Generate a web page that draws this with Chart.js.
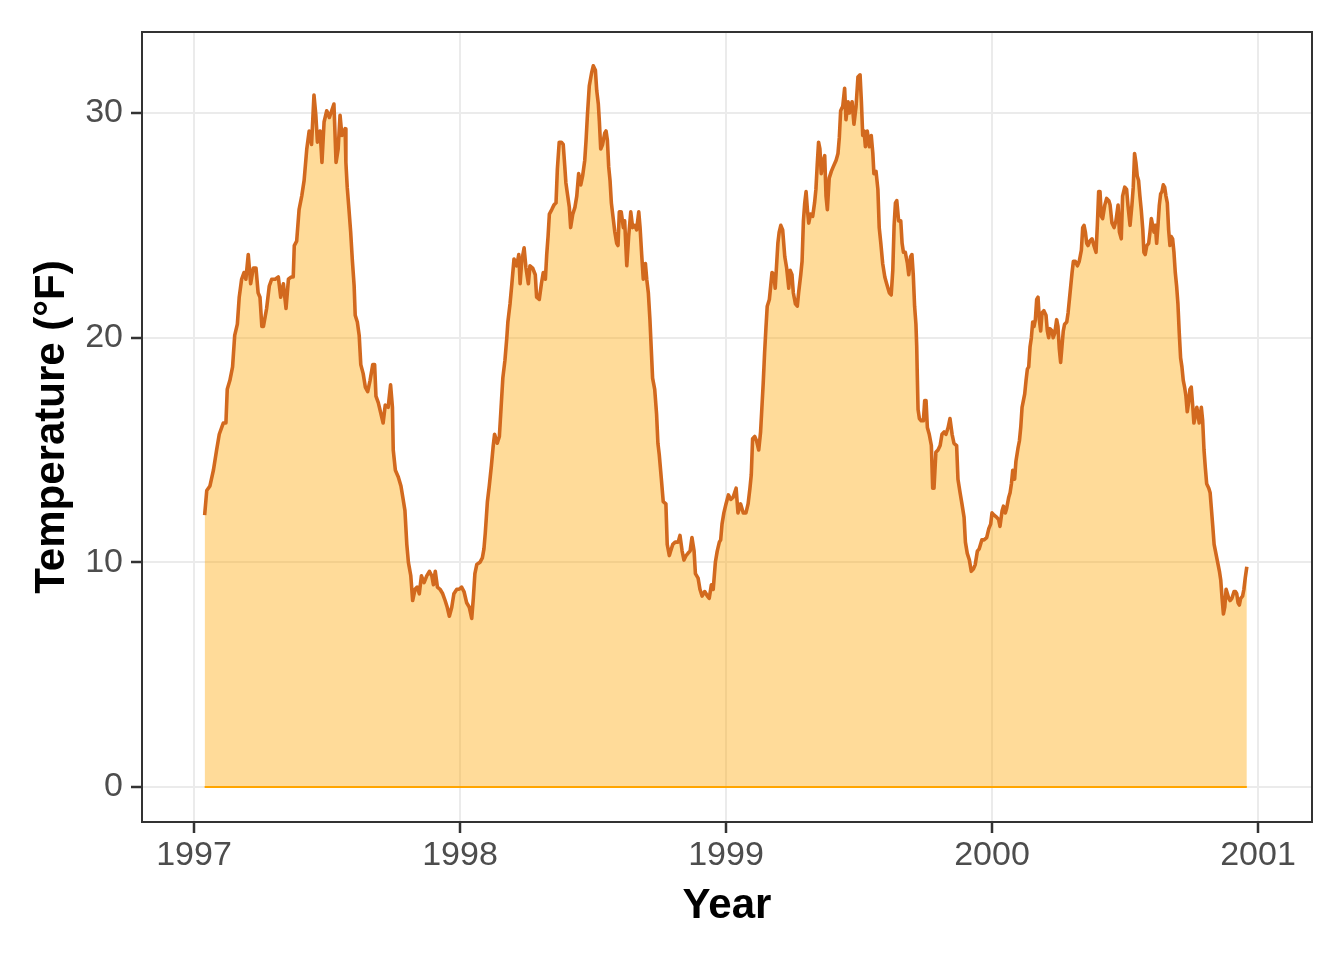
<!DOCTYPE html>
<html>
<head>
<meta charset="utf-8">
<script src="https://cdn.jsdelivr.net/npm/chart.js@4.4.1/dist/chart.umd.min.js"></script>
<style>
  html, body { margin: 0; padding: 0; background: #fff; }
  #wrap { width: 1344px; height: 960px; }
</style>
</head>
<body>
<div id="wrap"><canvas id="tempChart" width="1344" height="960"></canvas></div>
<script>
// readings, decimal year + temperature
const years = [
  1997.040, 1997.048, 1997.060, 1997.073, 1997.085, 1997.095, 1997.110, 1997.120, 1997.125, 1997.135,
  1997.145, 1997.153, 1997.163, 1997.170, 1997.179, 1997.188, 1997.195, 1997.204, 1997.213, 1997.223,
  1997.233, 1997.241, 1997.248, 1997.255, 1997.261, 1997.273, 1997.283, 1997.292, 1997.305, 1997.317,
  1997.326, 1997.336, 1997.346, 1997.355, 1997.365, 1997.373, 1997.377, 1997.386, 1997.395, 1997.405,
  1997.414, 1997.424, 1997.433, 1997.442, 1997.451, 1997.458, 1997.464, 1997.474, 1997.481, 1997.489,
  1997.499, 1997.509,
  1997.526, 1997.534, 1997.542, 1997.549, 1997.556, 1997.568, 1997.571, 1997.576, 1997.582, 1997.589,
  1997.595, 1997.602, 1997.606, 1997.614, 1997.621, 1997.627, 1997.636, 1997.644, 1997.653, 1997.662,
  1997.672, 1997.679, 1997.684, 1997.693, 1997.703, 1997.711, 1997.719, 1997.730, 1997.739, 1997.746,
  1997.749, 1997.757, 1997.768, 1997.778, 1997.785, 1997.793, 1997.800, 1997.806, 1997.815, 1997.822,
  1997.831, 1997.839, 1997.847, 1997.855, 1997.865, 1997.875, 1997.885, 1997.894, 1997.900, 1997.907,
  1997.915, 1997.925, 1997.935, 1997.944, 1997.952, 1997.960, 1997.969, 1997.977, 1997.988, 1997.997,
  1998.006, 1998.015, 1998.025, 1998.035, 1998.044, 1998.050, 1998.056, 1998.063, 1998.075, 1998.084,
  1998.090, 1998.095, 1998.103, 1998.110, 1998.118, 1998.125, 1998.130, 1998.140, 1998.148, 1998.154,
  1998.161, 1998.169, 1998.176, 1998.180, 1998.188, 1998.195, 1998.203, 1998.213, 1998.221, 1998.226,
  1998.232, 1998.241, 1998.248, 1998.257, 1998.263, 1998.273, 1998.283, 1998.288, 1998.298, 1998.306,
  1998.313, 1998.321, 1998.326, 1998.331, 1998.336, 1998.345, 1998.353, 1998.361, 1998.366, 1998.373,
  1998.381, 1998.388, 1998.394, 1998.398, 1998.405, 1998.411, 1998.416, 1998.424, 1998.432, 1998.439,
  1998.446, 1998.454, 1998.461, 1998.469, 1998.474, 1998.479, 1998.486,
  1998.495, 1998.501, 1998.509, 1998.514, 1998.520, 1998.524, 1998.529, 1998.536, 1998.544, 1998.549,
  1998.554, 1998.559, 1998.564, 1998.569, 1998.574, 1998.582, 1998.589, 1998.594, 1998.599, 1998.606,
  1998.614, 1998.619, 1998.627, 1998.634, 1998.642, 1998.649, 1998.657, 1998.664, 1998.672, 1998.677,
  1998.683, 1998.689, 1998.697, 1998.702, 1998.708, 1998.714, 1998.719, 1998.724, 1998.732, 1998.739,
  1998.744, 1998.749, 1998.757, 1998.764, 1998.774, 1998.779, 1998.787, 1998.792, 1998.800, 1998.809,
  1998.820, 1998.827, 1998.835, 1998.842, 1998.850, 1998.857, 1998.865, 1998.872, 1998.880, 1998.885,
  1998.895, 1998.902, 1998.910, 1998.920, 1998.930, 1998.937, 1998.945, 1998.952, 1998.960, 1998.967,
  1998.975,
  1998.980, 1998.985, 1998.992, 1999.000, 1999.009, 1999.018, 1999.027, 1999.038, 1999.045, 1999.055,
  1999.065, 1999.075, 1999.083, 1999.090, 1999.095, 1999.100, 1999.108, 1999.115, 1999.123, 1999.130,
  1999.135, 1999.140, 1999.145, 1999.150, 1999.155, 1999.163, 1999.168, 1999.173, 1999.180, 1999.185,
  1999.191, 1999.195, 1999.200, 1999.206, 1999.213, 1999.221, 1999.228, 1999.236, 1999.241, 1999.248,
  1999.253, 1999.261, 1999.268, 1999.273, 1999.281, 1999.286, 1999.291, 1999.296, 1999.301, 1999.306,
  1999.311, 1999.318, 1999.326, 1999.333, 1999.338, 1999.343, 1999.348, 1999.353, 1999.358, 1999.366,
  1999.371, 1999.376, 1999.381, 1999.388, 1999.396, 1999.403, 1999.414, 1999.421, 1999.426, 1999.431,
  1999.439, 1999.446, 1999.451, 1999.459, 1999.464,
  1999.474, 1999.481, 1999.489, 1999.496, 1999.504, 1999.509, 1999.514, 1999.519, 1999.524, 1999.531,
  1999.539, 1999.546, 1999.552, 1999.556, 1999.564, 1999.571, 1999.576, 1999.582, 1999.589, 1999.597,
  1999.604, 1999.614, 1999.621, 1999.627, 1999.632, 1999.637, 1999.642, 1999.649, 1999.657, 1999.662,
  1999.667, 1999.674, 1999.682, 1999.687, 1999.694, 1999.699, 1999.704, 1999.709, 1999.714, 1999.717,
  1999.719, 1999.722, 1999.727, 1999.734, 1999.742, 1999.747, 1999.752, 1999.757, 1999.764, 1999.772,
  1999.777, 1999.782, 1999.789, 1999.797, 1999.805, 1999.812, 1999.820, 1999.827, 1999.835, 1999.842,
  1999.850, 1999.857, 1999.867, 1999.872, 1999.880, 1999.887, 1999.895, 1999.900, 1999.907, 1999.915,
  1999.922, 1999.930, 1999.937, 1999.945, 1999.952,
  1999.962, 1999.970, 1999.980, 1999.988, 1999.995, 2000.000, 2000.008, 2000.018, 2000.025, 2000.030,
  2000.038, 2000.043, 2000.050, 2000.055, 2000.063, 2000.068, 2000.073, 2000.078, 2000.085, 2000.090,
  2000.098, 2000.103, 2000.108, 2000.113, 2000.118, 2000.123, 2000.128, 2000.133, 2000.138, 2000.143,
  2000.148, 2000.153, 2000.158, 2000.163, 2000.168, 2000.173, 2000.178, 2000.183, 2000.188, 2000.195,
  2000.203, 2000.208, 2000.213, 2000.218, 2000.226, 2000.230, 2000.236, 2000.243, 2000.248, 2000.253,
  2000.258, 2000.263, 2000.268, 2000.273, 2000.281, 2000.286, 2000.291, 2000.296, 2000.301, 2000.306,
  2000.313, 2000.321, 2000.328, 2000.336, 2000.341, 2000.346, 2000.351, 2000.356, 2000.361, 2000.368,
  2000.376, 2000.383, 2000.391, 2000.396, 2000.401, 2000.406, 2000.411, 2000.416, 2000.424, 2000.431,
  2000.439,
  2000.444, 2000.451, 2000.459, 2000.466, 2000.474, 2000.479, 2000.486, 2000.491, 2000.499, 2000.506,
  2000.511, 2000.519, 2000.526, 2000.531, 2000.536, 2000.541, 2000.546, 2000.551, 2000.556, 2000.561,
  2000.567, 2000.571, 2000.576, 2000.582, 2000.589, 2000.594, 2000.599, 2000.604, 2000.609, 2000.614,
  2000.619, 2000.624, 2000.629, 2000.634, 2000.639, 2000.644, 2000.649, 2000.654, 2000.659, 2000.664,
  2000.669, 2000.674, 2000.679, 2000.684, 2000.689, 2000.694, 2000.699, 2000.704, 2000.709, 2000.714,
  2000.719, 2000.724, 2000.729, 2000.734, 2000.739, 2000.744, 2000.749, 2000.755, 2000.759, 2000.764,
  2000.770, 2000.774, 2000.779, 2000.787, 2000.792, 2000.797, 2000.802, 2000.807, 2000.815, 2000.820,
  2000.824, 2000.830, 2000.835, 2000.840, 2000.845, 2000.850, 2000.855, 2000.860, 2000.865, 2000.870,
  2000.875, 2000.880, 2000.885, 2000.890, 2000.895, 2000.902, 2000.910, 2000.915, 2000.920, 2000.925,
  2000.930, 2000.935, 2000.942, 2000.947, 2000.952, 2000.958
];

const temps = [
  12.1, 13.2, 13.4, 14.1, 15.0, 15.7, 16.2, 16.2, 17.7, 18.1,
  18.7, 20.1, 20.6, 21.8, 22.6, 22.9, 22.6, 23.7, 22.4, 23.1,
  23.1, 22.0, 21.8, 20.5, 20.5, 21.3, 22.3, 22.6, 22.6, 22.7,
  21.8, 22.4, 21.3, 22.6, 22.7, 22.7, 24.1, 24.3, 25.7, 26.3,
  27.0, 28.4, 29.2, 28.6, 30.8, 29.9, 28.7, 29.2, 27.8, 29.6,
  30.1, 29.8,
  30.4, 27.8, 28.4, 29.9, 29.0, 29.3, 27.8, 26.7, 25.8, 24.7,
  23.5, 22.3, 21.0, 20.7, 20.1, 18.8, 18.4, 17.8, 17.6, 18.1,
  18.8, 18.8, 17.4, 17.1, 16.6, 16.2, 17.0, 16.9, 17.9, 16.9,
  15.0, 14.1, 13.8, 13.4, 12.9, 12.3, 10.8, 10.0, 9.4, 8.3,
  8.8, 8.9, 8.6, 9.4, 9.1, 9.4, 9.6, 9.4, 9.0, 9.6,
  8.9, 8.8, 8.6, 8.3, 8.0, 7.6, 8.0, 8.6, 8.8, 8.8,
  8.9, 8.7, 8.2, 8.0, 7.5, 8.4, 9.5, 9.9, 10.0, 10.2,
  10.6, 11.3, 12.7, 13.4, 14.3, 15.2, 15.7, 15.3, 15.6, 16.8,
  18.2, 19.0, 20.0, 20.7, 21.5, 22.4, 23.5, 23.2, 23.7, 22.4,
  23.4, 24.0, 23.1, 22.4, 23.2, 23.1, 22.8, 21.8, 21.7, 22.4,
  22.9, 22.6, 23.7, 24.5, 25.5, 25.7, 25.9, 26.0, 27.5, 28.7,
  28.7, 28.6, 27.6, 26.9, 26.3, 25.8, 24.9, 25.5, 25.8, 26.3,
  27.3, 26.8, 27.2, 27.9, 28.8, 29.9, 31.2,
  31.8, 32.1, 31.9, 31.0, 30.4, 29.6, 28.4, 28.6, 29.1, 29.2,
  28.8, 27.6, 27.0, 26.0, 25.5, 24.7, 24.2, 24.1, 25.6, 25.6,
  24.9, 25.2, 23.2, 24.5, 25.6, 24.9, 25.0, 24.8, 25.6, 24.9,
  23.7, 22.6, 23.3, 22.6, 22.0, 20.8, 19.5, 18.2, 17.7, 16.6,
  15.3, 14.8, 13.7, 12.7, 12.6, 10.8, 10.3, 10.5, 10.8, 10.9,
  10.9, 11.2, 10.5, 10.1, 10.3, 10.4, 10.5, 11.1, 10.5, 9.5,
  9.3, 8.8, 8.5, 8.7, 8.5, 8.4, 9.0, 8.8, 10.0, 10.5,
  10.9,
  11.0, 11.7, 12.2, 12.6, 13.0, 12.8, 12.9, 13.3, 12.2, 12.6,
  12.2, 12.2, 12.6, 13.3, 13.9, 15.5, 15.6, 15.4, 15.0, 15.8,
  16.9, 18.0, 19.3, 20.4, 21.4, 21.7, 22.3, 22.9, 22.8, 22.2,
  23.4, 24.2, 24.7, 25.0, 24.8, 23.6, 23.1, 22.2, 23.0, 22.8,
  22.0, 21.5, 21.4, 22.0, 22.8, 23.4, 25.2, 26.0, 26.5, 25.7,
  25.1, 25.5, 25.4, 26.0, 26.6, 27.7, 28.7, 28.4, 27.3, 27.9,
  28.1, 26.3, 25.7, 27.1, 27.4, 27.6, 27.9, 28.2, 28.9, 30.1,
  30.3, 31.1, 29.7, 30.5, 30.0,
  30.5, 29.5, 30.3, 31.6, 31.7, 30.5, 29.0, 29.2, 28.5, 29.2,
  28.5, 29.0, 28.2, 27.3, 27.4, 26.6, 24.9, 24.2, 23.3, 22.7,
  22.4, 22.0, 21.9, 23.0, 25.0, 26.0, 26.1, 25.2, 25.2, 24.2,
  23.8, 23.8, 23.3, 22.8, 23.6, 23.7, 22.8, 21.4, 20.6, 19.6,
  18.4, 16.8, 16.4, 16.3, 16.3, 17.2, 17.2, 16.0, 15.7, 15.2,
  13.3, 13.3, 14.9, 15.0, 15.2, 15.7, 15.8, 15.7, 16.0, 16.4,
  15.7, 15.3, 15.2, 13.7, 13.1, 12.6, 12.0, 10.9, 10.4, 10.1,
  9.6, 9.7, 9.9, 10.5, 10.6,
  11.0, 11.0, 11.1, 11.5, 11.7, 12.2, 12.1, 12.0, 11.9, 11.6,
  12.3, 12.5, 12.2, 12.4, 12.9, 13.1, 13.5, 14.1, 13.7, 14.5,
  15.1, 15.4, 16.0, 16.9, 17.2, 17.5, 18.1, 18.6, 18.7, 19.6,
  20.0, 20.7, 20.5, 20.8, 21.7, 21.8, 20.8, 20.3, 21.1, 21.2,
  21.0, 20.3, 20.0, 20.4, 20.3, 20.0, 20.2, 20.8, 20.5, 19.5,
  18.9, 19.6, 20.3, 20.6, 20.7, 21.1, 21.7, 22.3, 22.9, 23.4,
  23.4, 23.2, 23.4, 23.9, 24.9, 25.0, 24.7, 24.2, 24.1, 24.3,
  24.4, 24.1, 23.8, 25.0, 26.5, 26.5, 25.4, 25.3, 25.9, 26.2,
  26.1,
  25.9, 25.1, 24.9, 25.2, 25.9, 24.7, 24.4, 26.3, 26.7, 26.6,
  25.9, 25.0, 25.9, 26.7, 28.2, 27.8, 27.2, 27.0, 26.3, 25.7,
  24.8, 23.8, 23.7, 24.1, 24.2, 24.7, 25.3, 25.0, 24.7, 25.0,
  24.2, 25.0, 25.9, 26.4, 26.5, 26.8, 26.7, 26.3, 26.0, 24.8,
  24.1, 24.5, 24.4, 23.8, 22.9, 22.3, 21.5, 20.2, 19.1, 18.7,
  18.1, 17.8, 17.4, 16.7, 17.1, 17.7, 17.8, 16.9, 16.2, 16.5,
  16.9, 16.6, 16.2, 16.9, 16.3, 15.0, 14.2, 13.5, 13.3, 13.1,
  12.5, 11.6, 10.8, 10.5, 10.2, 9.9, 9.6, 9.2, 8.4, 7.7,
  8.0, 8.8, 8.6, 8.4, 8.3, 8.4, 8.7, 8.7, 8.6, 8.2,
  8.1, 8.4, 8.5, 8.8, 9.3, 9.8
];

const xTicks = [1997, 1998, 1999, 2000, 2001];
const yTicks = [0, 10, 20, 30];
const xTitle = 'Year';
const yTitle = 'Temperature (°F)';

if (years.length !== temps.length) {
  console.error('length mismatch', years.length, temps.length);
}

const points = years.map((yr, i) => ({ x: yr, y: temps[i] }));
const baseline = [
  { x: years[0], y: 0 },
  { x: years[years.length - 1], y: 0 }
];

// ggplot style panel border on top of everything
const panelBorder = {
  id: 'panelBorder',
  afterDraw(chart) {
    const { ctx, chartArea: a } = chart;
    ctx.save();
    ctx.strokeStyle = '#333333';
    ctx.lineWidth = 2;
    ctx.strokeRect(a.left, a.top, a.right - a.left, a.bottom - a.top);
    ctx.restore();
  }
};

Chart.defaults.font.family = '"Liberation Sans", Arial, sans-serif';

const ctx = document.getElementById('tempChart').getContext('2d');
const tempChart = new Chart(ctx, {
  type: 'line',
  data: {
    datasets: [{
      data: points,
      borderColor: '#D2691E',
      borderWidth: 3.6,
      backgroundColor: 'rgba(255, 165, 0, 0.4)',
      fill: 'origin',
      tension: 0,
      pointRadius: 0,
      borderJoinStyle: 'round'
    }, {
      data: baseline,
      borderColor: '#FFA500',
      borderWidth: 2,
      fill: false,
      pointRadius: 0
    }]
  },
  options: {
    responsive: false,
    animation: false,
    devicePixelRatio: 1,
    events: [],
    layout: {
      padding: { top: 32, right: 32, bottom: 0, left: 0 }
    },
    plugins: {
      legend: { display: false },
      tooltip: { enabled: false }
    },
    scales: {
      x: {
        type: 'linear',
        min: 1996.8045,
        max: 2001.203,
        afterBuildTicks: (axis) => {
          axis.ticks = xTicks.map(v => ({ value: v }));
        },
        afterFit: (scale) => {
          scale.height = 138;
        },
        ticks: {
          callback: (v) => String(v),
          color: '#4D4D4D',
          font: { size: 34 },
          padding: 2,
          maxRotation: 0,
          autoSkip: false
        },
        grid: {
          color: '#EBEBEB',
          lineWidth: 2,
          tickLength: 11,
          tickColor: '#333333',
          tickWidth: 2.5
        },
        border: { display: false },
        title: {
          display: true,
          text: xTitle,
          color: '#000000',
          font: { size: 42, weight: 'bold' },
          padding: { top: 0, bottom: 28 }
        }
      },
      y: {
        min: -1.558,
        max: 33.605,
        afterBuildTicks: (axis) => {
          axis.ticks = yTicks.map(v => ({ value: v }));
        },
        afterFit: (scale) => {
          scale.width = 142;
        },
        ticks: {
          color: '#4D4D4D',
          font: { size: 34 },
          padding: 8
        },
        grid: {
          color: '#EBEBEB',
          lineWidth: 2,
          tickLength: 11,
          tickColor: '#333333',
          tickWidth: 2.5
        },
        border: { display: false },
        title: {
          display: true,
          text: yTitle,
          color: '#000000',
          font: { size: 42, weight: 'bold' },
          padding: { top: 27, bottom: 0 }
        }
      }
    }
  },
  plugins: [panelBorder]
});
</script>
</body>
</html>
